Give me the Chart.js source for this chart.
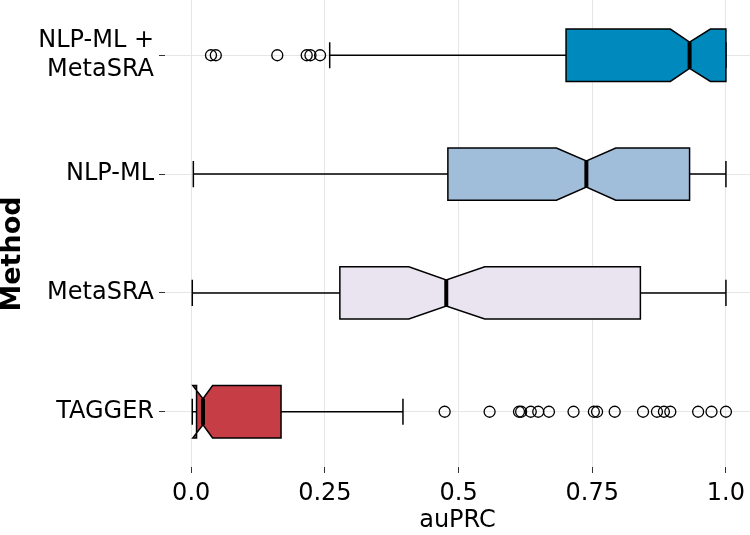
<!DOCTYPE html>
<html>
<head>
<meta charset="utf-8">
<script src="https://cdn.jsdelivr.net/npm/chart.js@4"></script>
<style>
  html, body { margin: 0; padding: 0; background: #fff; }
  #wrap { width: 750px; height: 535px; position: relative; }
</style>
</head>
<body>
<div id="wrap"><canvas id="chart"></canvas></div>
<script>
// rows top to bottom
const categories = ['NLP-ML + MetaSRA', 'NLP-ML', 'MetaSRA', 'TAGGER'];
const categoryLabels = [['NLP-ML +', 'MetaSRA'], 'NLP-ML', 'MetaSRA', 'TAGGER'];
const xTicks = [0, 0.25, 0.5, 0.75, 1.0];
const xTickLabels = ['0.0', '0.25', '0.5', '0.75', '1.0'];

// box stats (auPRC)
const whiskerLow  = [0.259, 0.004, 0.002, 0.002];
const q1          = [0.701, 0.480, 0.278, 0.010];
const notchLow    = [0.896, 0.683, 0.407, 0.003];
const median      = [0.932, 0.739, 0.477, 0.022];
const notchHigh   = [0.971, 0.794, 0.549, 0.040];
const q3          = [1.000, 0.932, 0.840, 0.168];
const whiskerHigh = [1.000, 1.000, 1.000, 0.396];
const outliers = [
    [0.037, 0.046, 0.161, 0.216, 0.223, 0.241],
    [],
    [],
    [0.474, 0.558, 0.613, 0.617, 0.635, 0.649, 0.669, 0.715, 0.753, 0.759, 0.792, 0.845, 0.871, 0.884, 0.896, 0.948, 0.973, 1.0]
];
const boxColors = ['#0089bc', '#a0bdda', '#e9e4f0', '#c73d45'];

const FONT = 'DejaVu Sans';
const BOX_HALF = 0.22; // in row units

// notched boxes + whiskers, drawn through the scales
const boxPlugin = {
    id: 'boxes',
    beforeDatasetsDraw(chart) {
        const { ctx, scales: { x, y } } = chart;
        const half = Math.abs(y.getPixelForValue(BOX_HALF) - y.getPixelForValue(0));
        ctx.save();
        ctx.strokeStyle = '#000';
        ctx.lineJoin = 'miter';
        categories.forEach((c, i) => {
            const cy = y.getPixelForValue(i);
            const px = v => x.getPixelForValue(v);
            // whiskers
            ctx.lineWidth = 1.5;
            ctx.beginPath();
            ctx.moveTo(px(whiskerLow[i]), cy); ctx.lineTo(px(q1[i]), cy);
            ctx.moveTo(px(q3[i]), cy); ctx.lineTo(px(whiskerHigh[i]), cy);
            // caps
            ctx.moveTo(px(whiskerLow[i]), cy - half / 2); ctx.lineTo(px(whiskerLow[i]), cy + half / 2);
            ctx.moveTo(px(whiskerHigh[i]), cy - half / 2); ctx.lineTo(px(whiskerHigh[i]), cy + half / 2);
            ctx.stroke();
            // notched box
            ctx.beginPath();
            ctx.moveTo(px(q1[i]), cy - half);
            ctx.lineTo(px(notchLow[i]), cy - half);
            ctx.lineTo(px(median[i]), cy - half / 2);
            ctx.lineTo(px(notchHigh[i]), cy - half);
            ctx.lineTo(px(q3[i]), cy - half);
            ctx.lineTo(px(q3[i]), cy + half);
            ctx.lineTo(px(notchHigh[i]), cy + half);
            ctx.lineTo(px(median[i]), cy + half / 2);
            ctx.lineTo(px(notchLow[i]), cy + half);
            ctx.lineTo(px(q1[i]), cy + half);
            ctx.closePath();
            ctx.fillStyle = boxColors[i];
            ctx.fill();
            ctx.stroke();
            // median
            ctx.lineWidth = 4;
            ctx.beginPath();
            ctx.moveTo(px(median[i]), cy - half / 2);
            ctx.lineTo(px(median[i]), cy + half / 2);
            ctx.stroke();
        });
        ctx.restore();
    },
    afterDraw(chart) {
        const { ctx } = chart;
        ctx.save();
        ctx.translate(13, 254);
        ctx.rotate(-Math.PI / 2);
        ctx.font = `bold 27px "${FONT}"`;
        ctx.fillStyle = '#000';
        ctx.textAlign = 'center';
        ctx.textBaseline = 'middle';
        ctx.fillText('Method', 0, 0);
        ctx.restore();
    }
};

const outlierData = [];
outliers.forEach((arr, i) => arr.forEach(v => outlierData.push({ x: v, y: i })));

new Chart(document.getElementById('chart'), {
    type: 'scatter',
    data: {
        datasets: [{
            label: 'outliers',
            data: outlierData,
            pointRadius: 5.5,
            pointHoverRadius: 5.5,
            pointBackgroundColor: 'rgba(0,0,0,0)',
            pointBorderColor: '#000',
            pointBorderWidth: 1.3
        }]
    },
    options: {
        responsive: true,
        maintainAspectRatio: false,
        animation: false,
        layout: { padding: 0, autoPadding: false },
        plugins: { legend: { display: false }, tooltip: { enabled: false } },
        scales: {
            x: {
                type: 'linear',
                min: -0.049,
                max: 1.045,
                afterBuildTicks: s => { s.ticks = xTicks.map(v => ({ value: v })); },
                afterFit: s => { s.height = 68; s.paddingLeft = 0; s.paddingRight = 0; },
                border: { display: false },
                grid: { color: '#e6e6e6', lineWidth: 1, tickColor: '#333', tickLength: 6 },
                ticks: {
                    color: '#000',
                    font: { family: FONT, size: 24 },
                    padding: 6,
                    maxRotation: 0,
                    callback: (v) => xTickLabels[xTicks.indexOf(v)]
                },
                title: {
                    display: true,
                    text: 'auPRC',
                    color: '#000',
                    font: { family: FONT, size: 24 },
                    padding: { top: 0, bottom: 0 }
                }
            },
            y: {
                type: 'linear',
                reverse: true,
                min: -0.465,
                max: 3.465,
                afterBuildTicks: s => { s.ticks = categories.map((c, i) => ({ value: i })); },
                afterFit: s => { s.width = 165; s.paddingTop = 0; s.paddingBottom = 0; },
                border: { display: false },
                grid: { color: '#e6e6e6', lineWidth: 1, tickColor: '#333', tickLength: 6 },
                ticks: {
                    color: '#000',
                    font: { family: FONT, size: 24, lineHeight: 1.17 },
                    padding: 5,
                    callback: (v) => categoryLabels[v]
                }
            }
        }
    },
    plugins: [boxPlugin]
});
</script>
</body>
</html>
